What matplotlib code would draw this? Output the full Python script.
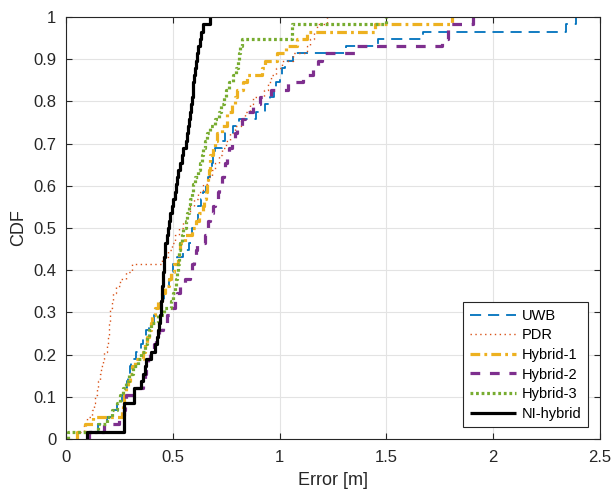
import numpy as np
import matplotlib
matplotlib.use("Agg")
import matplotlib.pyplot as plt

plt.rcParams['font.family'] = ['Liberation Sans', 'DejaVu Sans']
plt.rcParams['lines.scale_dashes'] = False

# localisation errors [m], one value per test point
uwb = [0.10, 0.15, 0.19, 0.22, 0.24, 0.26, 0.27, 0.285, 0.29, 0.30,
       0.305, 0.33, 0.35, 0.36, 0.375, 0.39, 0.41, 0.42, 0.44, 0.46,
       0.47, 0.48, 0.49, 0.50, 0.52, 0.55, 0.575, 0.585, 0.59, 0.612,
       0.617, 0.62, 0.63, 0.64, 0.655, 0.665, 0.675, 0.685, 0.69, 0.70,
       0.73, 0.745, 0.78, 0.81, 0.89, 0.93, 0.955, 0.975, 0.985, 1.0,
       1.01, 1.025, 1.064, 1.31, 1.46, 1.67, 2.34, 2.39]
pdr = [0.05, 0.085, 0.10, 0.12, 0.132, 0.137, 0.143, 0.151, 0.16, 0.166,
       0.172, 0.176, 0.19, 0.197, 0.20, 0.203, 0.205, 0.207, 0.215, 0.222,
       0.235, 0.255, 0.28, 0.31, 0.45, 0.477, 0.495, 0.51, 0.53, 0.548,
       0.565, 0.58, 0.60, 0.62, 0.64, 0.665, 0.685, 0.70, 0.717, 0.73,
       0.75, 0.768, 0.79, 0.82, 0.84, 0.86, 0.877, 0.925, 0.947, 0.958,
       0.985, 1.01, 1.064, 1.13, 1.142, 1.16, 1.175, 1.22]
hybrid1 = [0.05, 0.09, 0.125, 0.26, 0.265, 0.27, 0.28, 0.29, 0.30, 0.31,
           0.325, 0.36, 0.37, 0.38, 0.39, 0.40, 0.405, 0.417, 0.43, 0.45,
           0.465, 0.48, 0.49, 0.505, 0.525, 0.53, 0.535, 0.556, 0.59, 0.61,
           0.625, 0.64, 0.648, 0.655, 0.66, 0.666, 0.668, 0.672, 0.675, 0.69,
           0.698, 0.705, 0.73, 0.752, 0.755, 0.775, 0.79, 0.80, 0.83, 0.846,
           0.916, 0.932, 0.986, 1.03, 1.08, 1.13, 1.447, 1.806]
hybrid2 = [0.11, 0.18, 0.25, 0.27, 0.275, 0.28, 0.33, 0.36, 0.37, 0.375,
           0.385, 0.395, 0.41, 0.42, 0.435, 0.455, 0.475, 0.49, 0.51, 0.52,
           0.534, 0.555, 0.58, 0.59, 0.60, 0.61, 0.615, 0.65, 0.66, 0.665,
           0.675, 0.69, 0.70, 0.71, 0.715, 0.73, 0.74, 0.745, 0.752, 0.765,
           0.776, 0.79, 0.80, 0.825, 0.84, 0.875, 0.91, 0.96, 1.04, 1.11,
           1.155, 1.18, 1.197, 1.353, 1.76, 1.79, 1.79, 1.907]
hybrid3 = [0.01, 0.15, 0.19, 0.215, 0.24, 0.255, 0.265, 0.28, 0.295, 0.312,
           0.335, 0.35, 0.37, 0.378, 0.39, 0.40, 0.43, 0.46, 0.49, 0.50,
           0.512, 0.515, 0.518, 0.524, 0.528, 0.531, 0.536, 0.545, 0.55, 0.56,
           0.567, 0.575, 0.58, 0.588, 0.595, 0.605, 0.62, 0.627, 0.635, 0.643,
           0.65, 0.66, 0.674, 0.698, 0.715, 0.728, 0.74, 0.748, 0.765, 0.783,
           0.795, 0.807, 0.812, 0.817, 0.822, 1.06, 1.06, 1.50]
ni_hybrid = [0.10, 0.27, 0.27, 0.27, 0.27, 0.32, 0.32, 0.35, 0.36, 0.37,
             0.375, 0.40, 0.415, 0.425, 0.43, 0.435, 0.44, 0.443, 0.446, 0.448,
             0.45, 0.452, 0.455, 0.458, 0.46, 0.462, 0.465, 0.472, 0.478, 0.483,
             0.487, 0.495, 0.503, 0.51, 0.515, 0.52, 0.526, 0.535, 0.545, 0.55,
             0.56, 0.565, 0.572, 0.575, 0.582, 0.587, 0.59, 0.594, 0.596, 0.60,
             0.605, 0.61, 0.615, 0.62, 0.627, 0.63, 0.643, 0.675]

labels = ['UWB', 'PDR', 'Hybrid-1', 'Hybrid-2', 'Hybrid-3', 'NI-hybrid']
colors = ['#0072BD', '#D95319', '#EDB120', '#7E2F8E', '#77AC30', '#000000']
widths = [1.3, 1.0, 2.3, 2.3, 2.3, 2.3]
styles = [(0, (8, 5)), (0, (1, 2.5)), (0, (7, 3, 2, 3)), (0, (7, 7)),
          (0, (2, 2)), '-']

fig = plt.figure(figsize=(6.14, 4.91), dpi=100)
ax = fig.add_axes([0.1075, 0.1059, 0.8695, 0.8595])

for data, lab, c, lw, ls in zip([uwb, pdr, hybrid1, hybrid2, hybrid3, ni_hybrid],
                                labels, colors, widths, styles):
    xs = np.sort(np.asarray(data))
    n = len(xs)
    xx = np.r_[xs[0], xs]
    yy = np.r_[0, np.arange(1, n + 1) / n]
    ax.step(xx, yy, where='post', color=c, lw=lw, linestyle=ls, label=lab,
            solid_capstyle='butt', dash_capstyle='butt')

ax.set_xlim(0, 2.5)
ax.set_ylim(0, 1)
ax.set_xticks(np.arange(0, 2.51, 0.5))
ax.set_xticklabels(['0', '0.5', '1', '1.5', '2', '2.5'])
ax.set_yticks(np.arange(0, 1.01, 0.1))
ax.set_yticklabels(['0', '0.1', '0.2', '0.3', '0.4', '0.5', '0.6', '0.7',
                    '0.8', '0.9', '1'])
ax.grid(True, color='#e3e3e3', lw=0.8)
ax.set_axisbelow(True)
ax.tick_params(direction='in', length=4, width=0.8, colors='#262626',
               labelsize=12, top=True, right=True)
ax.tick_params(axis='x', pad=8)
ax.tick_params(axis='y', pad=7)
for sp in ax.spines.values():
    sp.set_color('#262626')
    sp.set_linewidth(0.8)
ax.set_xlabel('Error [m]', fontsize=13, color='#262626', labelpad=5)
ax.set_ylabel('CDF', fontsize=13, color='#262626', labelpad=4)

leg = ax.legend(loc='lower right', bbox_to_anchor=(0.9775, 0.028),
                borderaxespad=0, fontsize=10.5, handlelength=3.2,
                handletextpad=0.35, labelspacing=0.38, fancybox=False,
                framealpha=1, edgecolor='#262626', borderpad=0.45)
leg.get_frame().set_linewidth(0.8)

fig.savefig('out.png', dpi=100)
